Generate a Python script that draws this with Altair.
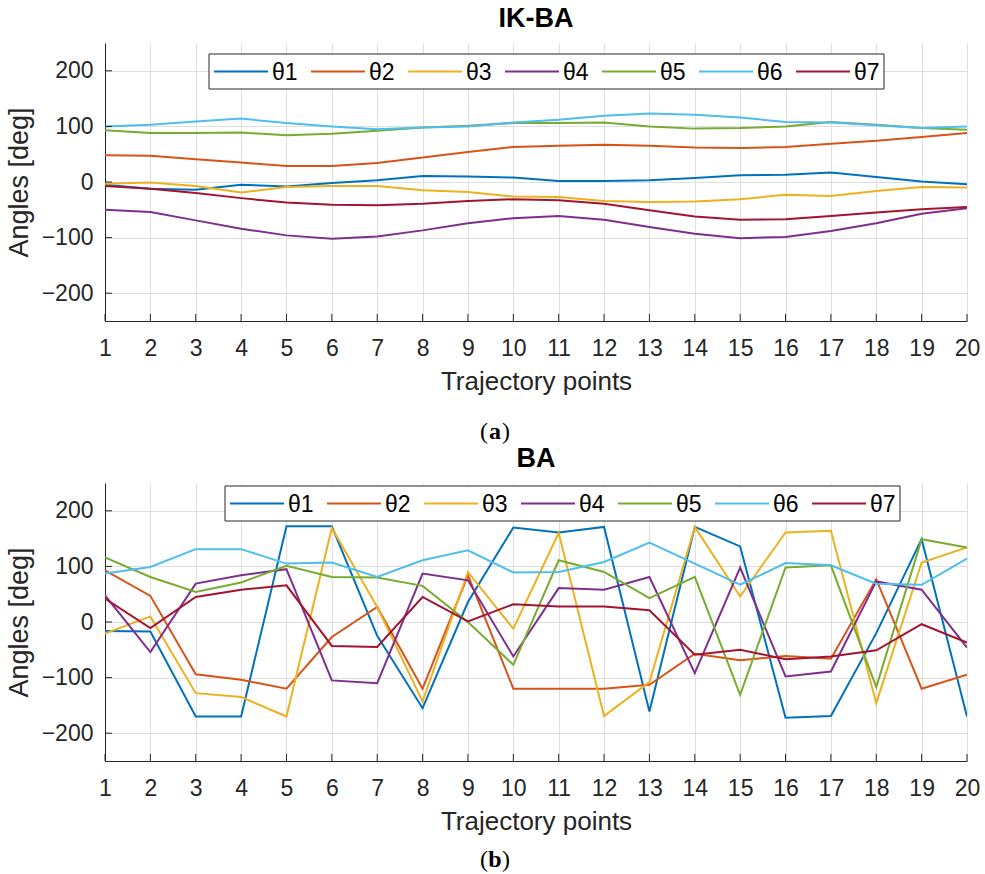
import altair as alt
import pandas as pd

points = list(range(1, 21))
joints = ["θ1", "θ2", "θ3", "θ4", "θ5", "θ6", "θ7"]
colors = ["#0072BD", "#D95319", "#EDB120", "#7E2F8E", "#77AC30", "#4DBEEE", "#A2142F"]
y_ticks = [-200, -100, 0, 100, 200]

# (a) IK-BA
ikba_t1 = [-5, -12, -14, -5, -8, -2, 3, 11, 10, 8, 2, 2, 3, 7, 12, 13, 17, 9, 1, -4]
ikba_t2 = [48, 47, 41, 35, 29, 29, 34, 44, 54, 63, 65, 67, 65, 62, 61, 63, 69, 74, 81, 88]
ikba_t3 = [-3, -1, -7, -19, -9, -7, -7, -15, -18, -26, -27, -34, -36, -35, -31, -23, -25, -16, -9, -10]
ikba_t4 = [-50, -54, -69, -84, -96, -102, -98, -87, -74, -65, -61, -68, -81, -93, -101, -99, -88, -74, -57, -47]
ikba_t5 = [93, 88, 88, 89, 84, 87, 92, 98, 101, 106, 106, 107, 100, 96, 97, 100, 108, 103, 97, 94]
ikba_t6 = [100, 103, 109, 114, 106, 100, 95, 98, 100, 107, 112, 119, 123, 121, 116, 108, 107, 102, 97, 100]
ikba_t7 = [-7, -12, -20, -29, -37, -41, -42, -39, -34, -31, -33, -39, -51, -62, -68, -67, -61, -55, -49, -45]

# (b) BA
ba_t1 = [-16, -17, -170, -170, 172, 172, -25, -155, 36, 170, 161, 171, -161, 171, 136, -172, -169, -20, 149, -170]
ba_t2 = [93, 47, -94, -104, -120, -27, 27, -120, 84, -120, -120, -120, -113, -57, -69, -61, -66, 77, -120, -95]
ba_t3 = [-21, 10, -128, -135, -170, 169, 27, -143, 90, -12, 160, -169, -108, 171, 46, 161, 164, -146, 107, 134]
ba_t4 = [48, -54, 69, 84, 95, -105, -110, 87, 75, -62, 61, 58, 81, -92, 98, -98, -89, 73, 58, -46]
ba_t5 = [116, 81, 54, 71, 101, 81, 80, 65, 0, -77, 111, 90, 43, 81, -131, 98, 102, -117, 149, 134]
ba_t6 = [87, 99, 131, 131, 105, 107, 81, 111, 129, 89, 90, 108, 143, 105, 67, 106, 102, 69, 67, 114]
ba_t7 = [42, -11, 45, 58, 66, -43, -45, 45, 1, 32, 28, 28, 21, -59, -50, -67, -62, -51, -4, -37]

ikba = [ikba_t1, ikba_t2, ikba_t3, ikba_t4, ikba_t5, ikba_t6, ikba_t7]
ba = [ba_t1, ba_t2, ba_t3, ba_t4, ba_t5, ba_t6, ba_t7]

W, H = 862, 278
FONT = "Liberation Sans"
DARK = "#262626"


def to_df(series):
    rows = []
    for j, vals in zip(joints, series):
        for p, v in zip(points, vals):
            rows.append({"pt": p, "angle": v, "joint": j})
    return pd.DataFrame(rows)


def legend_layers(lx, ly):
    # boxed horizontal legend drawn in pixel space (layout only)
    box_w, box_h, pitch = 675, 35, 97
    box = alt.Chart(pd.DataFrame({"k": [0]})).mark_rect(
        fill="white", stroke=DARK, strokeWidth=1).encode(
        x=alt.value(lx), x2=alt.value(lx + box_w),
        y=alt.value(ly), y2=alt.value(ly + box_h))
    rows = []
    for i, j in enumerate(joints):
        rows.append({"joint": j, "sx": lx + 5 + i * pitch, "sx2": lx + 59 + i * pitch,
                     "tx": lx + 63 + i * pitch, "sy": ly + box_h / 2})
    ldf = pd.DataFrame(rows)
    cscale = alt.Scale(domain=joints, range=colors)
    sym = alt.Chart(ldf).mark_rule(strokeWidth=2).encode(
        x=alt.X("sx:Q", scale=None), x2="sx2:Q", y=alt.Y("sy:Q", scale=None),
        color=alt.Color("joint:N", scale=cscale, legend=None))
    txt = alt.Chart(ldf).mark_text(font=FONT, fontSize=23, align="left",
                                   baseline="middle", color="black", dy=1).encode(
        x=alt.X("tx:Q", scale=None), y=alt.Y("sy:Q", scale=None), text="joint:N")
    return [box, sym, txt]


def panel(series, title, letter, legend_x, legend_y, letter_dy):
    df = to_df(series)
    xscale = alt.Scale(domain=[1, 20], nice=False, zero=False)
    yscale = alt.Scale(domain=[-250, 250], nice=False)
    lines = alt.Chart(df).mark_line(strokeWidth=2, clip=True).encode(
        x=alt.X("pt:Q", scale=xscale,
                axis=alt.Axis(values=points, title="Trajectory points", format="d",
                              labelFontSize=23, labelPadding=16, titleFontSize=26,
                              titlePadding=8, ticks=False, tickSize=0)),
        y=alt.Y("angle:Q", scale=yscale,
                axis=alt.Axis(values=y_ticks, title="Angles [deg]",
                              labelFontSize=23, labelPadding=12, titleFontSize=27,
                              titlePadding=8, ticks=False, tickSize=0)),
        color=alt.Color("joint:N", scale=alt.Scale(domain=joints, range=colors), legend=None),
        detail="joint:N",
        order="pt:Q",
    )
    xt = alt.Chart(pd.DataFrame({"pt": points})).mark_rule(color=DARK, strokeWidth=1).encode(
        x=alt.X("pt:Q", scale=xscale), y=alt.value(H), y2=alt.value(H - 7))
    yt = alt.Chart(pd.DataFrame({"v": y_ticks})).mark_rule(color=DARK, strokeWidth=1).encode(
        y=alt.Y("v:Q", scale=yscale), x=alt.value(0), x2=alt.value(7))
    one = pd.DataFrame({"t": [letter]})
    ty = H + letter_dy
    lab_mid = alt.Chart(one).mark_text(font="Liberation Serif", fontSize=24, fontWeight="bold",
                                       align="center", baseline="alphabetic", color="black").encode(
        text="t:N", x=alt.value(390), y=alt.value(ty))
    lab_l = alt.Chart(one).mark_text(font="Liberation Serif", fontSize=24, align="right",
                                     baseline="alphabetic", color="black").encode(
        text=alt.value("("), x=alt.value(383), y=alt.value(ty))
    lab_r = alt.Chart(one).mark_text(font="Liberation Serif", fontSize=24, align="left",
                                     baseline="alphabetic", color="black").encode(
        text=alt.value(")"), x=alt.value(397), y=alt.value(ty))
    layers = [lines, xt, yt] + legend_layers(legend_x, legend_y) + [lab_l, lab_mid, lab_r]
    return alt.layer(*layers).properties(
        width=W, height=H,
        title=alt.TitleParams(title, fontSize=27, fontWeight="bold", font=FONT,
                              color="black", offset=10, anchor="middle"),
    )


top = panel(ikba, "IK-BA", "a", 104, 11, 118)
bottom = panel(ba, "BA", "b", 120, 3, 106)

chart = alt.vconcat(top, bottom, spacing=1).properties(
    padding={"left": 5, "top": 5, "right": 5, "bottom": 2}
).configure(font=FONT).configure_view(stroke=None).configure_axis(
    gridColor="#dfdfdf", gridOpacity=1, domainColor=DARK, labelColor=DARK,
    titleColor=DARK, titleFontWeight="normal", labelFont=FONT, titleFont=FONT,
    labelFlush=False, labelOverlap=False,
)

chart.save("out.html", embed_options={"renderer": "svg", "actions": False})
